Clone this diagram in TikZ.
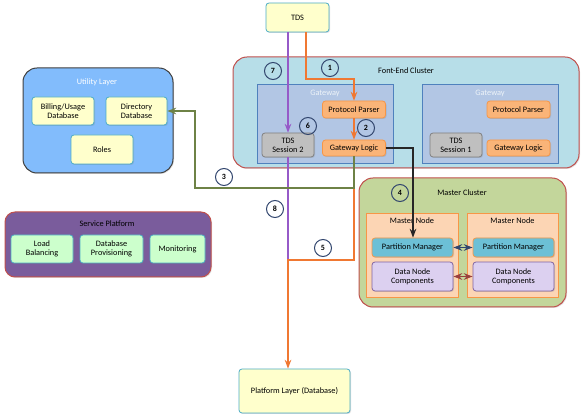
\documentclass[tikz,border=0pt]{standalone}
\usepackage{fontspec}
\setmainfont{Carlito}
\usetikzlibrary{arrows.meta,shadows}

\definecolor{boxyellow}{RGB}{255,255,204}
\definecolor{boxteal}{RGB}{75,172,198}
\definecolor{feblue}{RGB}{183,222,232}
\definecolor{redline}{RGB}{192,80,77}
\definecolor{gwfill}{RGB}{178,198,228}
\definecolor{gwline}{RGB}{79,129,189}
\definecolor{orfill}{RGB}{250,180,120}
\definecolor{orline}{RGB}{247,150,70}
\definecolor{utilblue}{RGB}{130,188,252}
\definecolor{spurple}{RGB}{122,92,156}
\definecolor{boxgreen}{RGB}{204,255,204}
\definecolor{mcgreen}{RGB}{195,214,155}
\definecolor{mnpeach}{RGB}{252,213,180}
\definecolor{pmfill}{RGB}{108,192,214}
\definecolor{dnfill}{RGB}{220,208,240}
\definecolor{dnline}{RGB}{128,100,162}
\definecolor{numline}{RGB}{50,70,110}
\definecolor{oliveline}{RGB}{110,130,70}
\definecolor{violetline}{RGB}{150,90,200}
\definecolor{arroworange}{RGB}{240,120,50}

\begin{document}
\begin{tikzpicture}[x=1pt, y=-1pt, >=Stealth, font=\fontsize{8.3}{9.3}\selectfont,
  box/.style={draw, line width=0.8pt, rounded corners=3pt, align=center, inner sep=0pt,
    drop shadow={opacity=0.25, shadow xshift=1pt, shadow yshift=-1pt}},
  yellowbox/.style={box, fill=boxyellow, draw=boxteal},
  greenbox/.style={box, fill=boxgreen, draw=boxteal},
  orangebox/.style={box, fill=orfill, draw=orline},
  sessionbox/.style={box, fill=gray!50, draw=gray},
  pmbox/.style={box, fill=pmfill, draw=orline},
  dnbox/.style={box, fill=dnfill, draw=dnline},
  cluster/.style={box, rounded corners=14pt, line width=1pt},
  gatewaybox/.style={draw=gwline, fill=gwfill, line width=0.8pt},
  nodebox/.style={draw=orline, fill=mnpeach, line width=0.8pt},
  num/.style={circle, draw=numline, line width=1pt, minimum size=17pt, inner sep=0pt, font=\fontsize{8}{8}\selectfont\bfseries},
  link/.style={line width=1.3pt}
]
  \useasboundingbox (0,0) rectangle (584,419);

  % clusters
  \node[cluster, fill=feblue, draw=redline, minimum width=346pt, minimum height=111pt] (fe) at (406,112.5) {};
  \node at (406,71) {Font-End Cluster};
  \node[cluster, fill=utilblue, draw=black!75, minimum width=150pt, minimum height=105pt] (util) at (98,120.5) {};
  \node[text=white] at (97,82) {Utility Layer};
  \node[cluster, rounded corners=10pt, fill=spurple, draw=redline, minimum width=206pt, minimum height=65pt] (sp) at (108,244.5) {};
  \node at (107,224) {Service Platform};
  \node[cluster, fill=mcgreen, draw=redline, minimum width=207pt, minimum height=129pt] (mc) at (462.5,242.5) {};
  \node at (462,193) {Master Cluster};

  % gateways
  \draw[gatewaybox] (257,84) rectangle (393,163);
  \draw[gatewaybox] (422,84) rectangle (558,163);
  \node[text=white!90!gwline] at (325,93) {Gateway};
  \node[text=white!90!gwline] at (490,93) {Gateway};

  % master nodes
  \draw[nodebox] (366,213) rectangle (458,297);
  \draw[nodebox] (467,213) rectangle (558,297);
  \node at (412,221) {Master Node};
  \node at (512.5,221) {Master Node};

  % boxes
  \node[yellowbox, minimum width=63pt, minimum height=29pt] (tds) at (297.5,17.5) {TDS};
  \node[yellowbox, minimum width=111pt, minimum height=44pt] (platform) at (294.5,391) {Platform Layer (Database)};
  \node[orangebox, minimum width=63pt, minimum height=17pt] (pp1) at (354,109.5) {Protocol Parser};
  \node[orangebox, minimum width=63pt, minimum height=16pt] (gl1) at (354,148) {Gateway Logic};
  \node[sessionbox, minimum width=52pt, minimum height=24pt] (ses2) at (288,145) {TDS\\Session 2};
  \node[orangebox, minimum width=63pt, minimum height=17pt] (pp2) at (518.5,109.5) {Protocol Parser};
  \node[orangebox, minimum width=63pt, minimum height=16pt] (gl2) at (518.5,148) {Gateway Logic};
  \node[sessionbox, minimum width=52pt, minimum height=24pt] (ses1) at (456,145) {TDS\\Session 1};
  \node[yellowbox, minimum width=62pt, minimum height=28pt] (billing) at (63,111) {Billing/Usage\\Database};
  \node[yellowbox, minimum width=61pt, minimum height=28pt] (directory) at (136.5,111) {Directory\\Database};
  \node[yellowbox, minimum width=62pt, minimum height=29pt] (roles) at (102,149.5) {Roles};
  \node[greenbox, minimum width=62pt, minimum height=28pt] (lb) at (42,249) {Load\\Balancing};
  \node[greenbox, minimum width=63pt, minimum height=28pt] (prov) at (111.5,249) {Database\\Provisioning};
  \node[greenbox, minimum width=55pt, minimum height=28pt] (mon) at (177.5,249) {Monitoring};
  \node[pmbox, minimum width=81pt, minimum height=19pt] (pm1) at (412.5,247.5) {Partition Manager};
  \node[pmbox, minimum width=81pt, minimum height=19pt] (pm2) at (513.5,247.5) {Partition Manager};
  \node[dnbox, minimum width=81pt, minimum height=29pt] (dn1) at (412.5,276.5) {Data Node\\Components};
  \node[dnbox, minimum width=81pt, minimum height=29pt] (dn2) at (513.5,276.5) {Data Node\\Components};

  % connectors
  \draw[link, violetline, ->] (tds.south -| ses2.north) -- (ses2.north);
  \coordinate (p8) at (288,260);
  \draw[link, violetline] (ses2.south) -- (p8);
  \coordinate (p1) at (306,79);
  \draw[link, arroworange, ->] (p1 |- tds.south) -- (p1) -| (pp1.north);
  \draw[link, arroworange, ->] (pp1.south) -- (gl1.north);
  \draw[link, arroworange, ->] (gl1.south) |- (p8) -- (platform.north -| p8);
  \coordinate (p3) at (195,188);
  \draw[link, oliveline, ->] (gl1.south) |- (p3) |- (directory.east);
  \coordinate (p4) at (413,148);
  \draw[link, black!85, ->] (gl1.east) -- (p4) -- (p4 |- pm1.north);
  \draw[link, numline, <->] (pm1.east) -- (pm2.west);
  \draw[link, redline!80!black, <->] (dn1.east) -- (dn2.west);

  % step numbers
  \node[num] (n1) at (330,68) {1};
  \node[num] (n2) at (366,128) {2};
  \node[num] (n3) at (224,177) {3};
  \node[num] (n4) at (400,193) {4};
  \node[num] (n5) at (323,248) {5};
  \node[num] (n6) at (308,126) {6};
  \node[num] (n7) at (273,71) {7};
  \node[num] (n8) at (275,209) {8};
\end{tikzpicture}
\end{document}
